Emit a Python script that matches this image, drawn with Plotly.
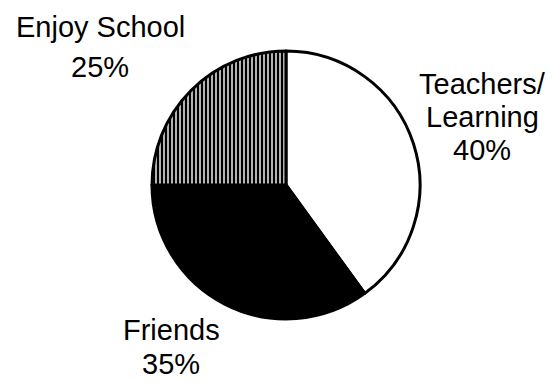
import plotly.graph_objects as go

# Survey shares (percent)
categories = ["Teachers/Learning", "Friends", "Enjoy School"]
values = [40, 35, 25]
# Label lines drawn beside each slice (the category name, split where it wraps)
label_lines = [["Teachers/", "Learning"], ["Friends"], ["Enjoy School"]]

W, H = 554, 382
FONT = dict(family="Liberation Sans, Arial, sans-serif", size=29, color="black")

# Pie placement in pixels: centre and radius
cx, cy, r = 286, 185, 134

def px(x):
    return x / W

def py(y):
    return 1 - y / H

fig = go.Figure(
    go.Pie(
        labels=categories,
        values=values,
        sort=False,
        direction="clockwise",
        rotation=0,
        textinfo="none",
        hoverinfo="label+percent",
        marker=dict(
            colors=["white", "black", "white"],
            line=dict(color="black", width=3),
            pattern=dict(
                shape=["", "", "|"],
                fgcolor="black",
                bgcolor="white",
                size=4,
                solidity=0.65,
            ),
        ),
        domain=dict(x=[px(cx - r), px(cx + r)], y=[py(cy + r), py(cy - r)]),
        showlegend=False,
    )
)

# Label anchor points (pixel centre x, first-line centre y, line step)
anchors = [(482, 84, 33), (171, 330, 34), (100, 27, 40)]

annotations = []
for lines, val, (ax, ay, step) in zip(label_lines, values, anchors):
    texts = lines + [f"{val}%"]
    for i, t in enumerate(texts):
        annotations.append(
            dict(
                text=t,
                x=px(ax),
                y=py(ay + i * step),
                xref="paper",
                yref="paper",
                xanchor="center",
                yanchor="middle",
                showarrow=False,
                font=FONT,
            )
        )

fig.update_layout(
    width=W,
    height=H,
    margin=dict(l=0, r=0, t=0, b=0),
    paper_bgcolor="white",
    plot_bgcolor="white",
    annotations=annotations,
)

fig.write_html("out.html")
